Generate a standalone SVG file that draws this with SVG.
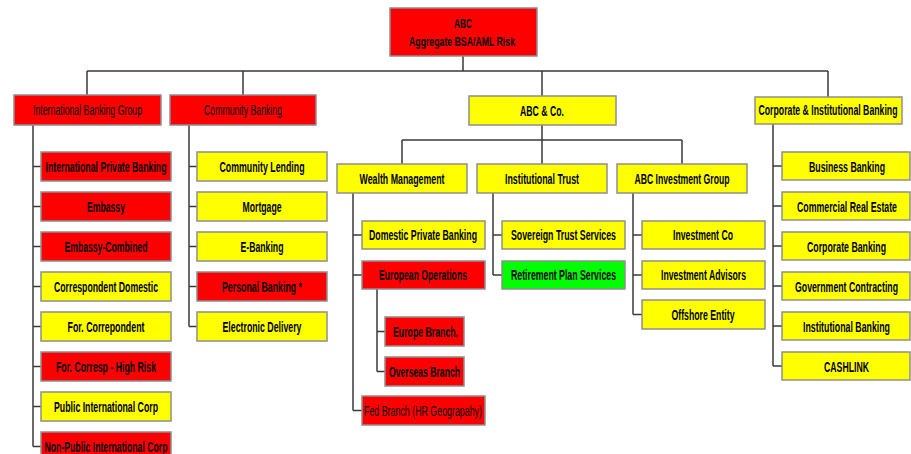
<svg xmlns="http://www.w3.org/2000/svg" width="911" height="454" viewBox="0 0 911 454">
<style>
.b{stroke:#8f8f8f;stroke-width:1.5}
.r{fill:#ff0000}.y{fill:#ffff00}.g{fill:#00ff00}
text{font-family:"Liberation Sans",Arial,sans-serif;font-size:14px;fill:#000;text-anchor:middle;font-weight:bold}
text.n{font-weight:normal}
text.t{font-size:12.5px}
#connectors path{fill:none;stroke:#3a3a3a;stroke-width:1.5}
</style>
<rect width="911" height="454" fill="#fff"/>
<g id="connectors">
<path d="M463 56V71M87 71H828M87 71V95M243 71V95M542 71V96M828 71V97"/>
<path d="M542 125V140M402 140H682M402 140V164M542 140V164M682 140V164"/>
<path d="M33 125V446.5M33 166.5H41M33 206.5H41M33 246.5H41M33 286.5H41M33 326.5H41M33 366.5H41M33 406.5H41M33 446.5H41"/>
<path d="M189 125V326.5M189 166.5H197M189 206.5H197M189 246.5H197M189 286.5H197M189 326.5H197"/>
<path d="M353 193V410.5M353 235H362M353 275H362M353 410.5H362"/>
<path d="M377 289V371.5M377 331.5H385M377 371.5H385"/>
<path d="M493 193V275M493 235H502M493 275H502"/>
<path d="M633 193V314.5M633 235H642M633 275H642M633 314.5H642"/>
<path d="M773 124V366M773 166H782M773 206H782M773 246H782M773 286H782M773 326H782M773 366H782"/>
</g>
<g id="root"><rect class="b r" x="390" y="8" width="147" height="48"/><text class="t" x="463" y="27.5" textLength="18" lengthAdjust="spacingAndGlyphs">ABC</text><text class="t" x="462" y="45.5" textLength="106" lengthAdjust="spacingAndGlyphs">Aggregate BSA/AML Risk</text></g>
<g id="intl"><rect class="b r" x="14" y="95" width="147" height="30"/><text class="n" x="87.5" y="114.5" textLength="109" lengthAdjust="spacingAndGlyphs">International Banking Group</text></g>
<g id="community"><rect class="b r" x="170" y="95" width="146" height="30"/><text class="n" x="243" y="114.5" textLength="78" lengthAdjust="spacingAndGlyphs">Community Banking</text></g>
<g id="abcco"><rect class="b y" x="469" y="96" width="147" height="29"/><text x="542" y="115.5" textLength="44" lengthAdjust="spacingAndGlyphs">ABC &amp; Co.</text></g>
<g id="corp"><rect class="b y" x="755" y="97" width="147" height="27"/><text x="828" y="115" textLength="139" lengthAdjust="spacingAndGlyphs">Corporate &amp; Institutional Banking</text></g>
<g id="intl-private"><rect class="b r" x="41" y="152" width="130" height="29"/><text x="106" y="172" textLength="121" lengthAdjust="spacingAndGlyphs">International Private Banking</text></g>
<g id="embassy"><rect class="b r" x="41" y="192" width="130" height="29"/><text x="106" y="212" textLength="38" lengthAdjust="spacingAndGlyphs">Embassy</text></g>
<g id="embassy-combined"><rect class="b r" x="41" y="232" width="130" height="29"/><text x="106" y="252" textLength="83" lengthAdjust="spacingAndGlyphs">Embassy-Combined</text></g>
<g id="corr-domestic"><rect class="b y" x="41" y="272" width="130" height="29"/><text x="106" y="292" textLength="104" lengthAdjust="spacingAndGlyphs">Correspondent Domestic</text></g>
<g id="for-corr"><rect class="b y" x="41" y="312" width="130" height="29"/><text x="106" y="332" textLength="77" lengthAdjust="spacingAndGlyphs">For. Correpondent</text></g>
<g id="for-corr-high"><rect class="b r" x="41" y="352" width="130" height="29"/><text x="106" y="372" textLength="100" lengthAdjust="spacingAndGlyphs">For. Corresp - High Risk</text></g>
<g id="public-intl"><rect class="b y" x="41" y="392" width="130" height="29"/><text x="106" y="412" textLength="104" lengthAdjust="spacingAndGlyphs">Public International Corp</text></g>
<g id="nonpublic-intl"><rect class="b r" x="41" y="432" width="130" height="29"/><text x="106" y="452" textLength="123" lengthAdjust="spacingAndGlyphs">Non-Public International Corp</text></g>
<g id="comm-lending"><rect class="b y" x="197" y="152" width="130" height="29"/><text x="262" y="172" textLength="85" lengthAdjust="spacingAndGlyphs">Community Lending</text></g>
<g id="mortgage"><rect class="b y" x="197" y="192" width="130" height="29"/><text x="262" y="212" textLength="39" lengthAdjust="spacingAndGlyphs">Mortgage</text></g>
<g id="ebanking"><rect class="b y" x="197" y="232" width="130" height="29"/><text x="262" y="252" textLength="43" lengthAdjust="spacingAndGlyphs">E-Banking</text></g>
<g id="personal"><rect class="b r" x="197" y="272" width="130" height="29"/><text x="262" y="292" textLength="80" lengthAdjust="spacingAndGlyphs">Personal Banking *</text></g>
<g id="electronic"><rect class="b y" x="197" y="312" width="130" height="29"/><text x="262" y="332" textLength="79" lengthAdjust="spacingAndGlyphs">Electronic Delivery</text></g>
<g id="wealth"><rect class="b y" x="337" y="164" width="130" height="29"/><text x="402" y="183.5" textLength="85" lengthAdjust="spacingAndGlyphs">Wealth Management</text></g>
<g id="inst-trust"><rect class="b y" x="477" y="164" width="130" height="29"/><text x="542" y="183.5" textLength="74" lengthAdjust="spacingAndGlyphs">Institutional Trust</text></g>
<g id="invest-group"><rect class="b y" x="617" y="164" width="130" height="29"/><text x="682" y="183.5" textLength="95" lengthAdjust="spacingAndGlyphs">ABC Investment Group</text></g>
<g id="dom-private"><rect class="b y" x="362" y="221" width="123" height="28"/><text x="423" y="240" textLength="108" lengthAdjust="spacingAndGlyphs">Domestic Private Banking</text></g>
<g id="euro-ops"><rect class="b r" x="362" y="261" width="123" height="28"/><text x="423" y="280" textLength="88" lengthAdjust="spacingAndGlyphs">European Operations</text></g>
<g id="europe-branch"><rect class="b r" x="385" y="317" width="79" height="29"/><text x="425.5" y="336.5" textLength="65" lengthAdjust="spacingAndGlyphs">Europe Branch.</text></g>
<g id="overseas"><rect class="b r" x="385" y="357" width="79" height="29"/><text x="424.5" y="376.5" textLength="71" lengthAdjust="spacingAndGlyphs">Overseas Branch</text></g>
<g id="fed-branch"><rect class="b r" x="362" y="396" width="123" height="29"/><text class="n" x="423" y="416" textLength="118" lengthAdjust="spacingAndGlyphs">Fed Branch (HR Geograpahy)</text></g>
<g id="sovereign"><rect class="b y" x="502" y="221" width="123" height="28"/><text x="563.5" y="240" textLength="105" lengthAdjust="spacingAndGlyphs">Sovereign Trust Services</text></g>
<g id="retirement"><rect class="b g" x="502" y="261" width="123" height="28"/><text x="563.5" y="280" textLength="105" lengthAdjust="spacingAndGlyphs">Retirement Plan Services</text></g>
<g id="invest-co"><rect class="b y" x="642" y="221" width="123" height="28"/><text x="703" y="240" textLength="60" lengthAdjust="spacingAndGlyphs">Investment Co</text></g>
<g id="invest-adv"><rect class="b y" x="642" y="261" width="123" height="28"/><text x="703.5" y="280" textLength="85" lengthAdjust="spacingAndGlyphs">Investment Advisors</text></g>
<g id="offshore"><rect class="b y" x="642" y="300" width="123" height="29"/><text x="703" y="319.5" textLength="63" lengthAdjust="spacingAndGlyphs">Offshore Entity</text></g>
<g id="business"><rect class="b y" x="782" y="152" width="128" height="28"/><text x="847" y="171.5" textLength="76" lengthAdjust="spacingAndGlyphs">Business Banking</text></g>
<g id="cre"><rect class="b y" x="782" y="192" width="128" height="28"/><text x="847" y="211.5" textLength="100" lengthAdjust="spacingAndGlyphs">Commercial Real Estate</text></g>
<g id="corp-banking"><rect class="b y" x="782" y="232" width="128" height="28"/><text x="846.5" y="251.5" textLength="79" lengthAdjust="spacingAndGlyphs">Corporate Banking</text></g>
<g id="gov"><rect class="b y" x="782" y="272" width="128" height="28"/><text x="846.5" y="291.5" textLength="103" lengthAdjust="spacingAndGlyphs">Government Contracting</text></g>
<g id="inst-banking"><rect class="b y" x="782" y="312" width="128" height="28"/><text x="846.5" y="331.5" textLength="87" lengthAdjust="spacingAndGlyphs">Institutional Banking</text></g>
<g id="cashlink"><rect class="b y" x="782" y="352" width="128" height="28"/><text x="846.5" y="371.5" textLength="45" lengthAdjust="spacingAndGlyphs">CASHLINK</text></g>
</svg>
